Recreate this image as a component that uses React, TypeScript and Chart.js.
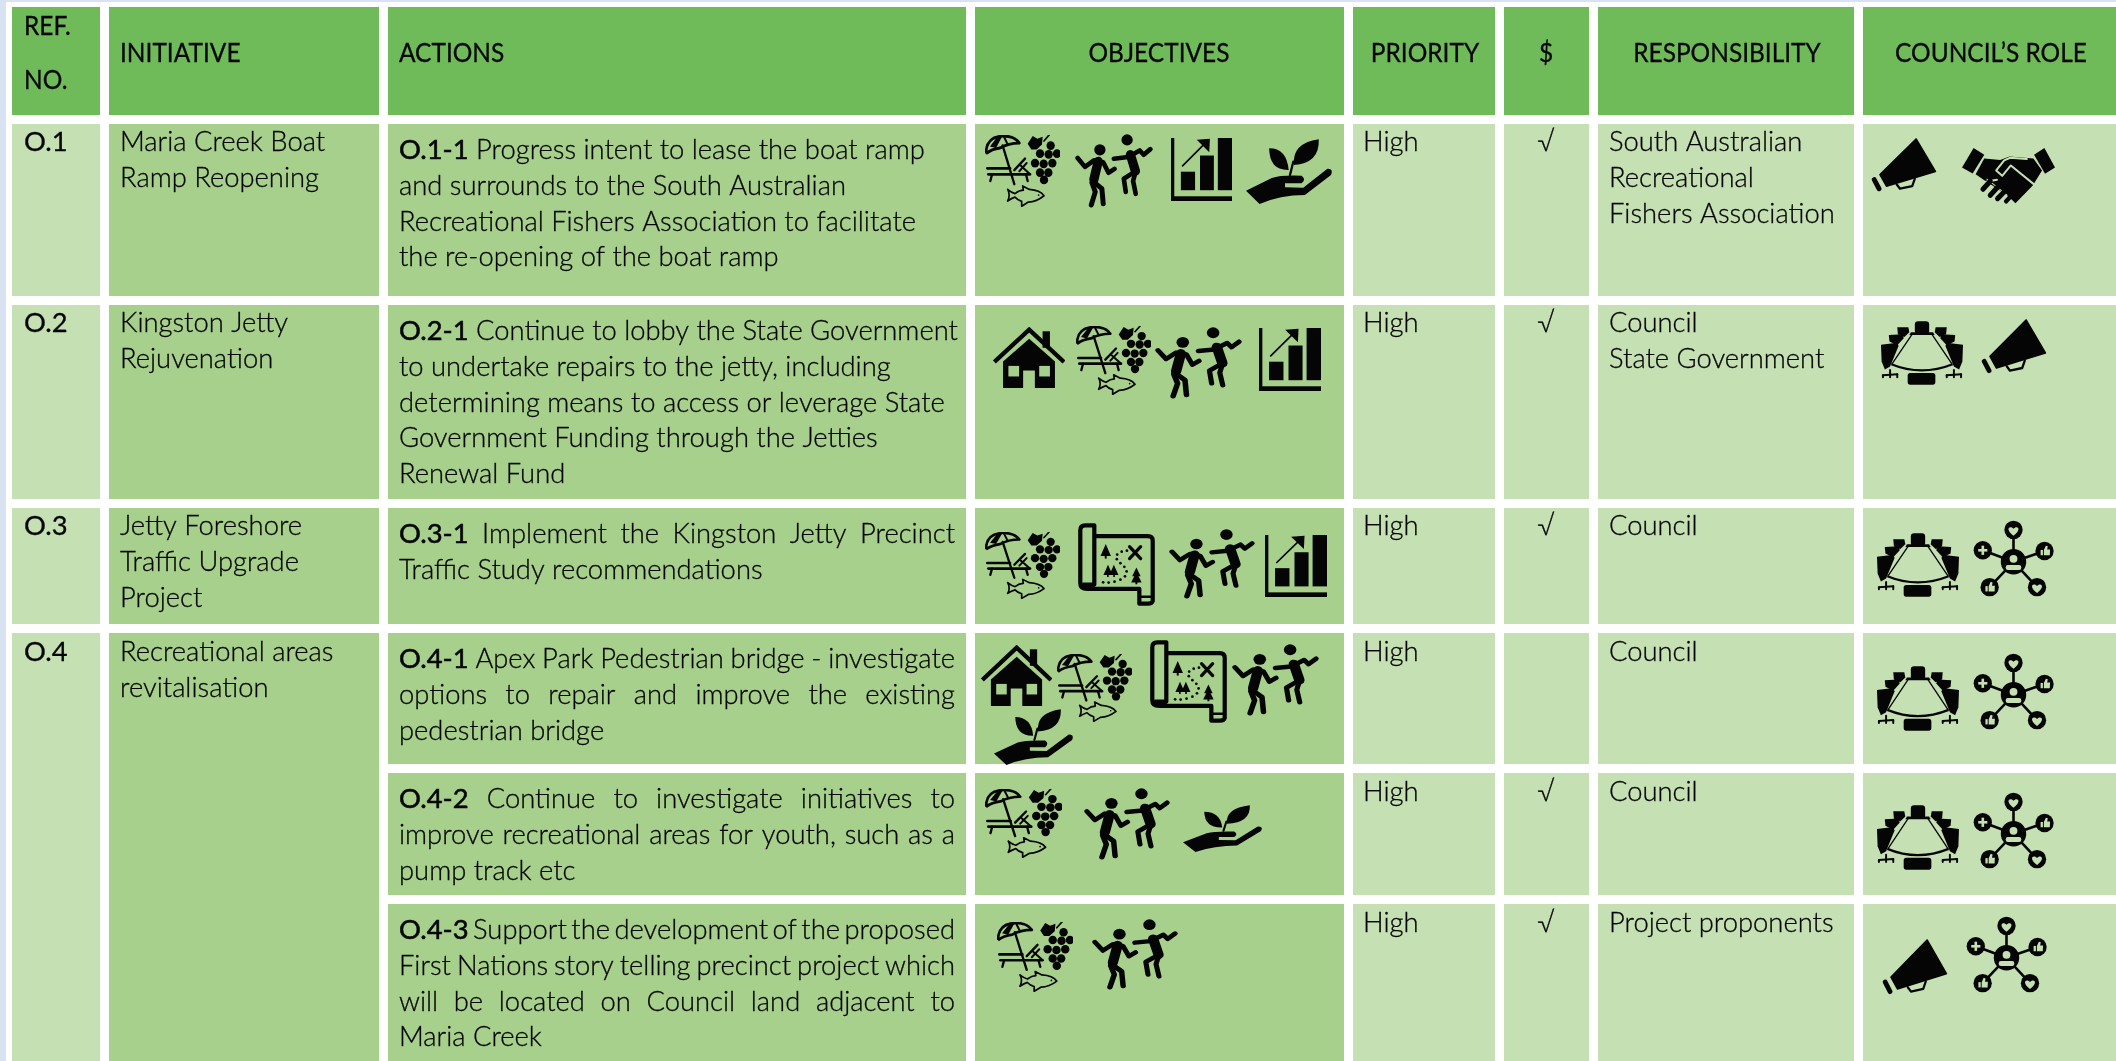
import React, { useEffect, useRef } from "react";
import { Chart, registerables } from "chart.js";

Chart.register(...registerables);

// ---------- table content ----------
const headers = ["REF. NO.", "INITIATIVE", "ACTIONS", "OBJECTIVES", "PRIORITY", "$", "RESPONSIBILITY", "COUNCIL’S ROLE"];
const refs = ["O.1", "O.2", "O.3", "O.4"];
const initiatives = [
  ["Maria Creek Boat", "Ramp Reopening"],
  ["Kingston Jetty", "Rejuvenation"],
  ["Jetty Foreshore", "Traffic Upgrade", "Project"],
  ["Recreational areas", "revitalisation"],
];
const actionCodes = ["O.1-1", "O.2-1", "O.3-1", "O.4-1", "O.4-2", "O.4-3"];
const actionLines = [
  ["Progress intent to lease the boat ramp", "and surrounds to the South Australian", "Recreational Fishers Association to facilitate", "the re-opening of the boat ramp"],
  ["Continue to lobby the State Government", "to undertake repairs to the jetty, including", "determining means to access or leverage State", "Government Funding through the Jetties", "Renewal Fund"],
  ["Implement the Kingston Jetty Precinct", "Traffic Study recommendations"],
  ["Apex Park Pedestrian bridge - investigate", "options to repair and improve the existing", "pedestrian bridge"],
  ["Continue to investigate initiatives to", "improve recreational areas for youth, such as a", "pump track etc"],
  ["Support the development of the proposed", "First Nations story telling precinct project which", "will be located on Council land adjacent to", "Maria Creek"],
];
const justifiedLineCounts = [0, 0, 1, 2, 2, 3];
const priorities = ["High", "High", "High", "High", "High", "High"];
const funded = ["√", "√", "√", "", "√", "√"];
const responsibility = [
  ["South Australian", "Recreational", "Fishers Association"],
  ["Council", "State Government"],
  ["Council"],
  ["Council"],
  ["Council"],
  ["Project proponents"],
];
const objectiveIcons = [
  ["beach", "dancers", "growth", "plant"],
  ["house", "beach", "dancers", "growth"],
  ["beach", "map", "dancers", "growth"],
  ["house", "beach", "map", "dancers", "plant"],
  ["beach", "dancers", "plant"],
  ["beach", "dancers"],
];
const roleIcons = [
  ["megaphone", "handshake"],
  ["boardroom", "megaphone"],
  ["boardroom", "network"],
  ["boardroom", "network"],
  ["boardroom", "network"],
  ["megaphone", "network"],
];

// ---------- layout (page pixels, used as scale units) ----------
const W = 2116;
const H = 1061;
const colEdges = [[12, 100], [109, 379], [388, 966], [975, 1344], [1353, 1495], [1504, 1589], [1598, 1854], [1863, 2116]];
const headerBand = [7, 115];
const mainRows = [[124, 296], [305, 499], [508, 624], [633, 1061]];
const subRows = [[124, 296], [305, 499], [508, 624], [633, 764], [773, 895], [904, 1061]];
const objectiveBoxes = [
  [[985, 135, 1060, 207], [1075, 134, 1153, 208], [1171, 138, 1232, 201], [1246, 139, 1332, 204]],
  [[993, 327, 1065, 388], [1076, 326, 1151, 395], [1155, 327, 1242, 399], [1259, 328, 1321, 391]],
  [[985, 532, 1060, 599], [1078, 523, 1155, 606], [1169, 529, 1255, 599], [1265, 535, 1327, 597]],
  [[981, 645, 1052, 706], [1057, 654, 1132, 722], [1150, 640, 1227, 723], [1232, 644, 1319, 716], [994, 709, 1073, 765]],
  [[985, 789, 1062, 858], [1084, 788, 1170, 860], [1183, 805, 1262, 852]],
  [[997, 922, 1073, 992], [1092, 919, 1178, 990]],
];
const roleBoxes = [
  [[1871, 137, 1937, 192], [1962, 147, 2055, 204]],
  [[1880, 320, 1964, 385], [1981, 318, 2047, 374]],
  [[1876, 532, 1960, 597], [1973, 520, 2054, 597]],
  [[1876, 665, 1960, 731], [1973, 653, 2054, 730]],
  [[1876, 804, 1960, 870], [1973, 792, 2054, 869]],
  [[1882, 938, 1948, 995], [1966, 916, 2047, 993]],
];
const C_HEAD = "#70bb59";
const C_DARK = "#a8d08d";
const C_LIGHT = "#c5e0b3";
const C_EDGE = "#d9e2f3";
const INK = "#050505";
const FONT_PX = 27.5;
const HEAD_SCALE = 0.89;
const BODY_SCALE = 0.995;

// ---------- icons ----------
type Ctx = CanvasRenderingContext2D;
const poly = (c: Ctx, p: number[]) => {
  c.beginPath();
  c.moveTo(p[0], p[1]);
  for (let i = 2; i < p.length; i += 2) c.lineTo(p[i], p[i + 1]);
  c.closePath();
  c.fill();
};
const line = (c: Ctx, p: number[], w: number) => {
  c.lineWidth = w;
  c.lineCap = "round";
  c.lineJoin = "round";
  c.beginPath();
  c.moveTo(p[0], p[1]);
  for (let i = 2; i < p.length; i += 2) c.lineTo(p[i], p[i + 1]);
  c.stroke();
};
const dot = (c: Ctx, x: number, y: number, r: number) => {
  c.beginPath();
  c.arc(x, y, r, 0, Math.PI * 2);
  c.fill();
};
const cut = (c: Ctx, f: () => void) => {
  c.save();
  c.globalCompositeOperation = "destination-out";
  f();
  c.restore();
};
const heart = (c: Ctx, x: number, y: number, s: number) => {
  c.beginPath();
  c.moveTo(x, y + s);
  c.bezierCurveTo(x - 1.6 * s, y - 0.1 * s, x - 0.9 * s, y - 1.1 * s, x, y - 0.35 * s);
  c.bezierCurveTo(x + 0.9 * s, y - 1.1 * s, x + 1.6 * s, y - 0.1 * s, x, y + s);
  c.fill();
};
const thumb = (c: Ctx, x: number, y: number) => {
  c.fillRect(x - 14, y - 3, 7, 16);
  poly(c, [x - 4, y - 3, x + 2, y - 16, x + 8, y - 14, x + 6, y - 4, x + 15, y - 4, x + 14, y + 13, x - 4, y + 13]);
};

const iconDefs: Record<string, { box: number[]; draw: (c: Ctx) => void }> = {
  beach: {
    box: [15, 25, 225, 205],
    draw(c) {
      c.lineWidth = 8;
      c.lineJoin = "round";
      c.beginPath();
      c.moveTo(18, 78);
      c.quadraticCurveTo(18, 30, 68, 28);
      c.quadraticCurveTo(103, 27, 118, 48);
      c.quadraticCurveTo(85, 48, 60, 62);
      c.quadraticCurveTo(35, 65, 18, 78);
      c.stroke();
      poly(c, [30, 58, 52, 30, 66, 30, 48, 62]);
      line(c, [72, 30, 82, 50], 6);
      line(c, [68, 55, 103, 165], 7);
      line(c, [22, 120, 90, 120], 8);
      line(c, [25, 137, 150, 137], 8);
      line(c, [103, 125, 135, 92], 7);
      line(c, [118, 128, 140, 105], 6);
      line(c, [122, 112, 148, 135], 6);
      line(c, [36, 137, 31, 156], 7);
      line(c, [138, 137, 143, 156], 7);
      const grapes = [[212, 55], [180, 78], [206, 80], [231, 78], [165, 105], [191, 107], [217, 105], [180, 132], [205, 132], [192, 153]];
      grapes.forEach(([x, y]) => dot(c, x, y, 12.5));
      poly(c, [143, 50, 158, 28, 172, 36, 188, 30, 186, 52, 170, 66, 154, 66]);
      line(c, [192, 42, 208, 24], 5);
      c.lineWidth = 5;
      c.beginPath();
      c.moveTo(83, 180);
      c.quadraticCurveTo(95, 190, 105, 192);
      c.quadraticCurveTo(118, 182, 130, 182);
      c.lineTo(128, 170);
      c.lineTo(148, 180);
      c.quadraticCurveTo(180, 182, 192, 198);
      c.quadraticCurveTo(170, 215, 145, 216);
      c.lineTo(125, 228);
      c.lineTo(125, 214);
      c.quadraticCurveTo(112, 210, 105, 202);
      c.quadraticCurveTo(95, 205, 83, 213);
      c.quadraticCurveTo(92, 196, 83, 180);
      c.stroke();
      dot(c, 176, 196, 2.5);
    },
  },
  dancers: {
    box: [315, 42, 235, 225],
    draw(c) {
      dot(c, 390, 90, 17);
      line(c, [323, 115, 345, 142, 372, 122, 400, 128, 416, 160, 434, 148], 14);
      line(c, [385, 125, 372, 180], 28);
      line(c, [368, 185, 396, 208, 400, 254], 15);
      line(c, [366, 190, 376, 218, 364, 258], 15);
      dot(c, 472, 60, 17);
      line(c, [432, 117, 475, 112, 510, 92, 522, 105, 542, 88], 14);
      line(c, [482, 105, 497, 155], 28);
      line(c, [498, 155, 462, 178, 468, 218], 14);
      line(c, [498, 155, 490, 185, 498, 224], 14);
    },
  },
  growth: {
    box: [602, 55, 185, 187],
    draw(c) {
      c.fillRect(602, 55, 10, 187);
      c.fillRect(602, 228, 185, 14);
      c.fillRect(632, 155, 43, 55);
      c.fillRect(690, 107, 42, 103);
      c.fillRect(744, 55, 43, 155);
      line(c, [637, 138, 702, 74], 5);
      poly(c, [720, 57, 680, 60, 718, 97]);
    },
  },
  plant: {
    box: [827, 57, 260, 195],
    draw(c) {
      c.beginPath();
      c.moveTo(897, 85);
      c.quadraticCurveTo(950, 85, 956, 150);
      c.quadraticCurveTo(898, 152, 897, 85);
      c.fill();
      c.beginPath();
      c.moveTo(1047, 58);
      c.quadraticCurveTo(1050, 130, 972, 135);
      c.quadraticCurveTo(965, 70, 1047, 58);
      c.fill();
      line(c, [970, 125, 960, 165], 7);
      c.beginPath();
      c.moveTo(827, 212);
      c.lineTo(905, 174);
      c.quadraticCurveTo(930, 165, 995, 167);
      c.quadraticCurveTo(1010, 178, 995, 190);
      c.lineTo(945, 190);
      c.lineTo(945, 202);
      c.lineTo(1000, 203);
      c.lineTo(1073, 146);
      c.quadraticCurveTo(1092, 145, 1084, 165);
      c.lineTo(1005, 225);
      c.quadraticCurveTo(930, 225, 868, 252);
      c.closePath();
      c.fill();
    },
  },
  house: {
    box: [70, 620, 215, 185],
    draw(c) {
      c.lineCap = "butt";
      c.fillRect(218, 633, 22, 50);
      c.lineWidth = 13;
      c.beginPath();
      c.moveTo(74, 726);
      c.lineTo(178, 628);
      c.lineTo(282, 726);
      c.stroke();
      poly(c, [100, 805, 100, 725, 178, 656, 255, 725, 255, 805]);
      cut(c, () => {
        c.fillRect(116, 738, 32, 32);
        c.fillRect(208, 738, 32, 32);
        c.fillRect(160, 752, 35, 53);
      });
    },
  },
  map: {
    box: [8, 8, 236, 252],
    draw(c) {
      c.lineWidth = 13;
      c.lineJoin = "round";
      c.beginPath();
      c.moveTo(60, 48);
      c.lineTo(222, 48);
      c.quadraticCurveTo(237, 48, 237, 62);
      c.lineTo(237, 245);
      c.quadraticCurveTo(235, 253, 222, 253);
      c.lineTo(196, 253);
      c.lineTo(196, 208);
      c.lineTo(36, 208);
      c.quadraticCurveTo(15, 208, 15, 190);
      c.lineTo(15, 30);
      c.quadraticCurveTo(15, 15, 30, 15);
      c.lineTo(58, 15);
      c.lineTo(58, 195);
      c.lineTo(22, 195);
      c.stroke();
      line(c, [196, 232, 232, 232], 8);
      poly(c, [93, 72, 77, 108, 109, 108]);
      c.fillRect(90, 104, 6, 12);
      poly(c, [100, 135, 86, 166, 114, 166]);
      poly(c, [118, 135, 104, 166, 132, 166]);
      c.fillRect(97, 162, 5, 10);
      c.fillRect(116, 162, 5, 10);
      poly(c, [187, 143, 174, 170, 200, 170]);
      poly(c, [187, 156, 171, 189, 203, 189]);
      c.fillRect(184, 185, 6, 9);
      line(c, [166, 80, 200, 116], 10);
      line(c, [200, 80, 166, 116], 10);
      [[158, 92], [142, 95], [128, 104], [127, 118], [138, 130], [150, 141], [157, 155], [152, 170], [138, 180], [120, 186], [102, 189], [85, 188]].forEach(
        ([x, y]) => dot(c, x, y, 4.2),
      );
    },
  },
  megaphone: {
    box: [60, 50, 205, 168],
    draw(c) {
      c.lineJoin = "round";
      c.lineWidth = 5;
      c.beginPath();
      c.moveTo(88, 165);
      c.lineTo(200, 56);
      c.lineTo(260, 155);
      c.lineTo(108, 200);
      c.closePath();
      c.fill();
      c.stroke();
      line(c, [70, 180, 85, 208], 15);
      line(c, [140, 195, 150, 208, 188, 200, 196, 178], 7);
    },
  },
  handshake: {
    box: [335, 82, 280, 170],
    draw(c) {
      poly(c, [370, 85, 402, 105, 367, 161, 335, 143]);
      poly(c, [583, 85, 615, 143, 585, 162, 552, 105]);
      poly(c, [402, 116, 450, 121, 478, 110, 550, 116, 576, 152, 548, 197, 496, 250, 470, 225, 400, 180, 376, 163]);
      cut(c, () => {
        line(c, [550, 192, 482, 137, 456, 168, 438, 152, 462, 122, 480, 114, 530, 118], 6);
        line(c, [384, 190, 440, 180], 6);
        line(c, [410, 178, 470, 225], 3);
      });
      line(c, [398, 208, 420, 184], 15);
      line(c, [420, 226, 444, 200], 15);
      line(c, [442, 236, 466, 212], 15);
      line(c, [468, 244, 490, 220], 13);
    },
  },
  boardroom: {
    box: [75, 62, 258, 200],
    draw(c) {
      const round = (x: number, y: number, w: number, h: number, r: number) => {
        c.beginPath();
        c.roundRect(x, y, w, h, r);
        c.fill();
      };
      round(182, 66, 44, 40, 10);
      round(160, 225, 85, 36, 8);
      poly(c, [128, 84, 162, 84, 165, 100, 150, 114, 130, 106]);
      poly(c, [280, 84, 246, 84, 243, 100, 258, 114, 278, 106]);
      poly(c, [102, 108, 144, 106, 148, 118, 128, 140, 104, 128]);
      poly(c, [306, 108, 264, 106, 260, 118, 280, 140, 304, 128]);
      poly(c, [78, 138, 128, 132, 132, 142, 106, 205, 90, 214, 80, 190]);
      poly(c, [330, 138, 280, 132, 276, 142, 302, 205, 318, 214, 328, 190]);
      poly(c, [165, 108, 243, 108, 238, 100, 170, 100]);
      c.lineWidth = 7;
      c.beginPath();
      c.moveTo(110, 198);
      c.quadraticCurveTo(203, 236, 298, 198);
      c.stroke();
      line(c, [175, 104, 112, 197], 4);
      line(c, [233, 104, 296, 197], 4);
      [[106, 232], [302, 232]].forEach(([x, y]) => {
        line(c, [x - 22, y, x + 22, y - 3], 6);
        line(c, [x - 22, y, x - 22, y + 6], 6);
        line(c, [x, y - 16, x, y + 6], 6);
        line(c, [x + 22, y - 3, x + 22, y + 6], 6);
      });
    },
  },
  network: {
    box: [366, 28, 248, 234],
    draw(c) {
      const hub = [490, 155];
      const nodes = [[490, 58], [585, 122], [562, 232], [417, 232], [396, 120]];
      nodes.forEach(([x, y]) => {
        line(c, [hub[0], hub[1], x, y], 8);
        dot(c, x, y, 28);
      });
      dot(c, hub[0], hub[1], 39);
      cut(c, () => {
        heart(c, 490, 60, 16);
        heart(c, 562, 234, 16);
        thumb(c, 587, 122);
        thumb(c, 418, 232);
        c.fillRect(392, 106, 8, 28);
        c.fillRect(382, 116, 28, 8);
        dot(c, 490, 146, 12);
        c.beginPath();
        c.roundRect(466, 165, 48, 15, 7);
        c.fill();
      });
    },
  },
};

const iconCanvas = (name: string, w: number, h: number) => {
  const cv = document.createElement("canvas");
  cv.width = w;
  cv.height = h;
  const c = cv.getContext("2d") as Ctx;
  const def = iconDefs[name];
  c.fillStyle = INK;
  c.strokeStyle = INK;
  c.scale(w / def.box[2], h / def.box[3]);
  c.translate(-def.box[0], -def.box[1]);
  def.draw(c);
  return cv;
};

// ---------- text drawing ----------
const setFont = (c: Ctx, weight: number) => {
  c.font = `${weight} ${FONT_PX}px Lato, Carlito, sans-serif`;
};
const LIGHT = 300;
const REGULAR = 400;
const CODE = 400;
const drawRun = (c: Ctx, s: string, x: number, y: number, weight = LIGHT, sx = BODY_SCALE, emb = 0.3) => {
  setFont(c, weight);
  c.save();
  c.translate(x, y);
  c.scale(sx, 1);
  c.fillText(s, 0, 0);
  if (emb > 0) {
    c.strokeStyle = INK;
    c.lineWidth = emb;
    c.strokeText(s, 0, 0);
  }
  c.restore();
};
const centered = (c: Ctx, s: string, cx: number, y: number, sx = HEAD_SCALE, weight = REGULAR) => {
  setFont(c, weight);
  drawRun(c, s, cx - (c.measureText(s).width * sx) / 2, y, weight, sx);
};
const actionLine = (c: Ctx, code: string | null, s: string, x: number, y: number, right: number | null) => {
  const words = s.split(" ");
  setFont(c, LIGHT);
  const ws = words.map((w) => c.measureText(w).width * BODY_SCALE);
  const space = c.measureText(" ").width * BODY_SCALE;
  setFont(c, CODE);
  const codeW = code ? c.measureText(code).width * BODY_SCALE : 0;
  const gapCount = words.length - (code ? 0 : 1);
  const sum = ws.reduce((a, b) => a + b, 0) + codeW;
  let gap = space;
  let shrink = 1;
  if (right !== null) {
    gap = (right - x - sum) / gapCount;
    if (gap < space * 0.55) {
      gap = space * 0.55;
      shrink = (right - x) / (sum + gap * gapCount);
    }
  }
  c.save();
  c.translate(x, y);
  c.scale(shrink, 1);
  let px = 0;
  if (code) {
    drawRun(c, code, 0, 0, CODE, BODY_SCALE, 0.55);
    px += codeW + gap;
  }
  words.forEach((w, i) => {
    drawRun(c, w, px, 0);
    px += ws[i] + gap;
  });
  c.restore();
};

const tablePlugin = {
  id: "tableText",
  afterDatasetsDraw(chart: any) {
    const c: Ctx = chart.ctx;
    const X = (v: number) => chart.scales.x.getPixelForValue(v);
    const Y = (v: number) => chart.scales.y.getPixelForValue(v);
    c.save();
    c.fillStyle = INK;
    c.textBaseline = "alphabetic";
    c.textAlign = "left";
    const [refWord, noWord] = [headers[0].split(" ")[0], headers[0].split(" ")[1]];
    drawRun(c, refWord, X(24), Y(35), REGULAR, HEAD_SCALE);
    drawRun(c, noWord, X(24), Y(89), REGULAR, HEAD_SCALE);
    drawRun(c, headers[1], X(120), Y(62), REGULAR, HEAD_SCALE);
    drawRun(c, headers[2], X(399), Y(62), REGULAR, HEAD_SCALE);
    centered(c, headers[3], X(1159), Y(62));
    centered(c, headers[4], X(1425), Y(62));
    centered(c, headers[5], X(1546), Y(62));
    centered(c, headers[6], X(1727), Y(62));
    centered(c, headers[7], X(1991), Y(62));

    const PITCH = 36;
    const nudge = (r: number, from: number) => (r >= from ? 1 : 0);
    mainRows.forEach(([top], r) => {
      const y0 = top + 27 + nudge(r, 3);
      drawRun(c, refs[r], X(24), Y(y0), REGULAR);
      initiatives[r].forEach((t, i) => drawRun(c, t, X(120), Y(y0 + i * PITCH)));
    });
    subRows.forEach(([top], r) => {
      actionLines[r].forEach((t, i) => {
        const right = i < justifiedLineCounts[r] ? X(955) : null;
        actionLine(c, i === 0 ? actionCodes[r] : null, t, X(399), Y(top + 35 + i * 35.8), right);
      });
      const y0 = top + 27 + nudge(r, 3);
      drawRun(c, priorities[r], X(1363), Y(y0));
      if (funded[r]) centered(c, funded[r], X(1546), Y(y0), 1, LIGHT);
      responsibility[r].forEach((t, i) => drawRun(c, t, X(1609), Y(y0 + i * PITCH)));
    });
    c.restore();
  },
};

export default function App() {
  const ref = useRef<HTMLCanvasElement | null>(null);
  useEffect(() => {
    document.body.style.margin = "0";
    const col = (i: number, rows: number[][], colour: string, label: string) => {
      const [a, b] = colEdges[i];
      return {
        type: "bar",
        label,
        order: 2,
        grouped: false,
        barPercentage: 1000,
        categoryPercentage: 1,
        maxBarThickness: b - a,
        inflateAmount: 0,
        borderWidth: 0,
        borderSkipped: false,
        backgroundColor: [C_HEAD, ...rows.map(() => colour)],
        data: [headerBand, ...rows].map(([t, e]) => ({ x: (a + b) / 2, y: [t, e] })),
      };
    };
    const band = (x: number, w: number, y: number[], label: string) => ({
      type: "bar",
      label,
      order: 3,
      grouped: false,
      barPercentage: 1000,
      categoryPercentage: 1,
      maxBarThickness: w,
      inflateAmount: 0,
      borderWidth: 0,
      borderSkipped: false,
      backgroundColor: C_EDGE,
      data: [{ x, y }],
    });
    const names = [...objectiveIcons.flat(), ...roleIcons.flat()];
    const boxes = [...objectiveBoxes.flat(), ...roleBoxes.flat()];
    const images = boxes.map((b, i) => iconCanvas(names[i], b[2] - b[0], b[3] - b[1]));
    const chart = new Chart(ref.current as HTMLCanvasElement, {
      type: "bar",
      data: {
        datasets: [
          {
            type: "scatter",
            label: "icons",
            order: 1,
            showLine: false,
            pointRadius: 5,
            pointStyle: (ctx: any) => images[ctx.dataIndex],
            data: boxes.map((b) => ({ x: (b[0] + b[2]) / 2, y: (b[1] + b[3]) / 2 })),
          },
          band(W / 2, W, [0, 2], "top edge"),
          band(3, 6, [0, H], "left edge"),
          col(0, mainRows, C_LIGHT, headers[0]),
          col(1, mainRows, C_DARK, headers[1]),
          col(2, subRows, C_DARK, headers[2]),
          col(3, subRows, C_DARK, headers[3]),
          col(4, subRows, C_LIGHT, headers[4]),
          col(5, subRows, C_LIGHT, headers[5]),
          col(6, subRows, C_LIGHT, headers[6]),
          col(7, subRows, C_LIGHT, headers[7]),
        ] as any,
      },
      options: {
        animation: false,
        responsive: false,
        events: [],
        layout: { padding: 0, autoPadding: false },
        plugins: { legend: { display: false }, tooltip: { enabled: false }, title: { display: false } },
        scales: {
          x: { type: "linear", min: 0, max: W, display: false, offset: false },
          y: { type: "linear", min: 0, max: H, reverse: true, display: false },
        },
      } as any,
      plugins: [tablePlugin as any],
    });
    return () => chart.destroy();
  }, []);
  return <canvas ref={ref} width={W} height={H} style={{ display: "block" }} />;
}
